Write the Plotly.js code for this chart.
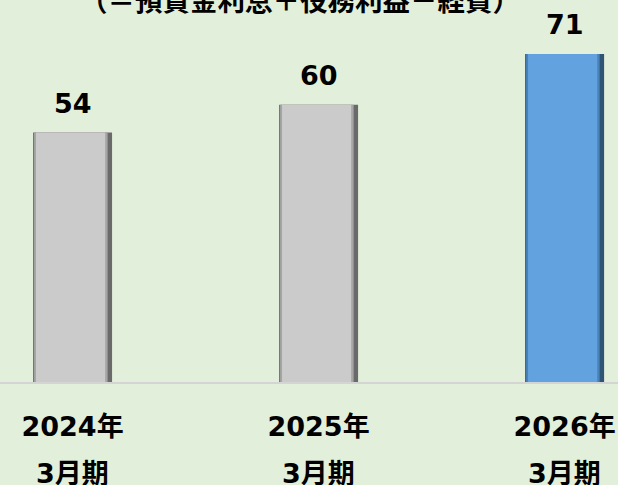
<!DOCTYPE html>
<html>
<head>
<meta charset="utf-8">
<script src="https://cdn.plot.ly/plotly-3.0.1.min.js"></script>
<style>html,body{margin:0;padding:0;background:#e2efda;}#chart{width:618px;height:485px;}</style>
</head>
<body>
<div id="chart"></div>
<script>
const categories = ['2024年3月期', '2025年3月期', '2026年3月期'];
const tickYears = ['2024年', '2025年', '2026年'];
const tickPeriods = ['3月期', '3月期', '3月期'];
const values = [54, 60, 71];
const titleText = '（＝預貸金利息＋役務利益－経費）';

const fillColors = ['#cbcbcb', '#cbcbcb', '#62a3df'];
const edgeColors = ['#6a6a6a', '#6a6a6a', '#2e5476'];
const sideColors = ['#a6a6a6', '#a6a6a6', '#4a83b8'];
const FONT = '"DejaVu Sans", "Noto Sans CJK JP", sans-serif';
const W = 0.321;

const traces = [
  {type:'bar', x:categories, y:values, width:W, marker:{color:edgeColors, line:{width:0}}, hoverinfo:'skip', showlegend:false},
  {type:'bar', x:categories, y:values, width:W-0.022, offset:-W/2+0.004, marker:{color:sideColors, line:{width:0}}, hoverinfo:'skip', showlegend:false},
  {type:'bar', x:categories, y:values, width:W-0.04, offset:-W/2+0.012, marker:{color:fillColors, line:{width:0}}, showlegend:false}
];

const annotations = [];
categories.forEach((c, i) => {
  annotations.push({
    x: i, y: values[i], xref:'x', yref:'y', text: String(values[i]),
    showarrow:false, yanchor:'bottom', yshift:12,
    font:{family:FONT, size:27, color:'#000', weight:'bold'}
  });
  annotations.push({
    x: i, y: 0, xref:'x', yref:'paper', text: tickPeriods[i],
    showarrow:false, yanchor:'middle', yshift:-91,
    font:{family:FONT, size:27, color:'#000', weight:'bold'}
  });
});
annotations.push({
  xref:'paper', yref:'paper', x:0.485, y:1, yanchor:'middle', yshift:29,
  text:titleText, showarrow:false,
  font:{family:FONT, size:27.5, color:'#000', weight:'bold'}
});

const layout = {
  width:618, height:485,
  margin:{l:0, r:0, t:30, b:103},
  paper_bgcolor:'#e2efda', plot_bgcolor:'#e2efda',
  barmode:'overlay',
  xaxis:{type:'category', range:[-0.295, 2.217], tickvals:categories, ticktext:tickYears,
         showgrid:false, zeroline:false, showline:true, linecolor:'#d4d4d4', linewidth:1.5,
         ticks:'', ticklabelstandoff:20,
         tickfont:{family:FONT, size:27, color:'#000', weight:'bold'}},
  yaxis:{range:[0, 76.2], showgrid:false, zeroline:false, showticklabels:false, ticks:''},
  annotations: annotations,
  showlegend:false
};

Plotly.newPlot('chart', traces, layout, {staticPlot:true});
</script>
</body>
</html>
